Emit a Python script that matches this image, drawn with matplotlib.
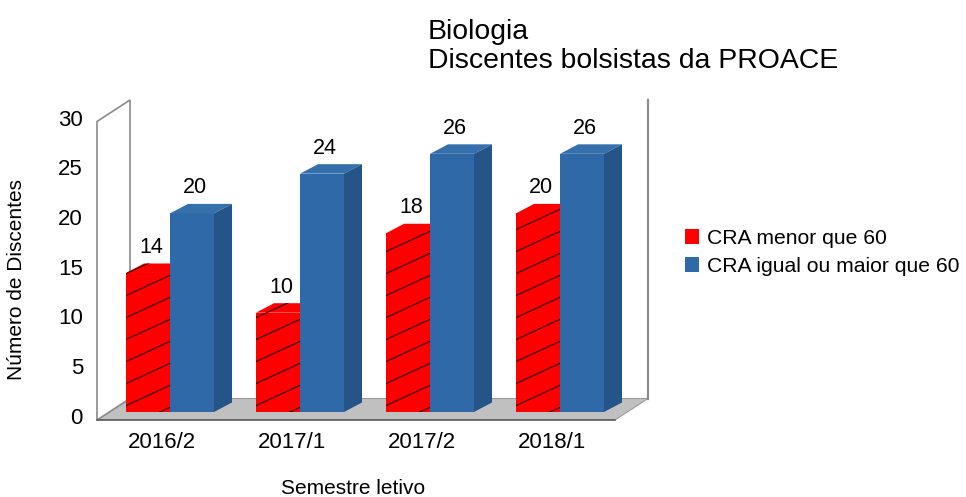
import numpy as np
import matplotlib
matplotlib.use('Agg')
import matplotlib.pyplot as plt
from matplotlib.patches import Polygon, Rectangle, Patch

plt.rcParams['font.family'] = ['Liberation Sans', 'DejaVu Sans']

semestres = ['2016/2', '2017/1', '2017/2', '2018/1']
cra_menor = [14, 10, 18, 20]
cra_maior = [20, 24, 26, 26]
series = ['CRA menor que 60', 'CRA igual ou maior que 60']
yticks = [0, 5, 10, 15, 20, 25, 30]

RED = '#ff0000'
BLUE = '#2f69a7'
BLUE_TOP = '#3570ad'
BLUE_SIDE = '#255489'

# pixel -> data scale (130 px per category, 9.93 px per unit)
SX = 1 / 130.0
SY = 1 / 9.93
BAR_W = 44 * SX
BDX, BDY = 18 * SX, 9.5 * SY      # bar depth
WDX, WDY = 33 * SX, 21.5 * SY     # wall depth

fig = plt.figure(figsize=(9.66, 4.97), dpi=100)
ax = fig.add_axes([97 / 966, 77 / 497, 558 / 966, 320 / 497])
ax.set_xlim(-73 * SX, 485 * SX)
ax.set_ylim(-8 * SY, 312 * SY)
ax.axis('off')

x0, x1 = ax.get_xlim()
y0, y1 = ax.get_ylim()
fx1 = 445 * SX  # front right end of floor

# floor
ax.add_patch(Polygon([(x0, y0), (fx1, y0), (fx1 + WDX, y0 + WDY), (x0 + WDX, y0 + WDY)],
                     closed=True, fc='#c0c0c0', ec='#9a9a9a', lw=0.8, zorder=1))
ax.plot([x0, fx1], [y0, y0], color='#5a5a5a', lw=1.2, zorder=2, clip_on=False)
# left wall
ax.add_patch(Polygon([(x0, y0), (x0 + WDX, y0 + WDY), (x0 + WDX, y1), (x0, y1 - WDY)],
                     closed=True, fc='white', ec='#8a8a8a', lw=1.2, zorder=1, clip_on=False))
# right back edge
ax.plot([fx1 + WDX, fx1 + WDX], [y0 + WDY, y1], color='#8a8a8a', lw=1.6, zorder=1, clip_on=False)


def bar3d(xl, h, front, top, side, hatch=False):
    r = Rectangle((xl, 0), BAR_W, h, fc=front, ec='none', zorder=3)
    ax.add_patch(r)
    t = Polygon([(xl, h), (xl + BAR_W, h), (xl + BAR_W + BDX, h + BDY), (xl + BDX, h + BDY)],
                closed=True, fc=top, ec='none', zorder=3)
    ax.add_patch(t)
    s = Polygon([(xl + BAR_W, 0), (xl + BAR_W + BDX, BDY), (xl + BAR_W + BDX, h + BDY), (xl + BAR_W, h)],
                closed=True, fc=side, ec='none', zorder=3)
    ax.add_patch(s)
    if hatch:
        slope = 0.46 * 130 / 9.93
        xs = np.array([xl - 0.05, xl + BAR_W + BDX + 0.05])
        for c in np.arange(-6, h + 6, 22 * SY):
            for clip in (r, t):
                ln, = ax.plot(xs, c + slope * (xs - xl), color='#3a0000', lw=0.9, zorder=3)
                ln.set_clip_path(clip)


for i, (a, b) in enumerate(zip(cra_menor, cra_maior)):
    bar3d(i - BAR_W, a, RED, RED, '#c00000', hatch=True)
    bar3d(i, b, BLUE, BLUE_TOP, BLUE_SIDE)
    ax.text(i - BAR_W / 2 + 3 * SX, a + BDY + 16 * SY, str(a), ha='center', va='center',
            fontsize=15.5, zorder=5)
    ax.text(i + BAR_W / 2 + 3 * SX, b + BDY + 16 * SY, str(b), ha='center', va='center',
            fontsize=15.5, zorder=5)

# axis labels on the front edge of the left wall
for v in yticks:
    ax.text(x0 - 14 * SX, v - 6 * SY, str(v), ha='right', va='center', fontsize=16, clip_on=False)
for i, s in enumerate(semestres):
    ax.text(i - 8 * SX, y0 - 23 * SY, s, ha='center', va='center', fontsize=16, clip_on=False)

fig.text(17 / 966, 1 - 279 / 497, 'Número de Discentes', rotation=90, ha='center', va='center',
         fontsize=15)
fig.text(353 / 966, 1 - 488 / 497, 'Semestre letivo', ha='center', va='center', fontsize=15)
fig.text(428 / 966, 1 - 19 / 497, 'Biologia\nDiscentes bolsistas da PROACE', ha='left', va='top',
         fontsize=20.4, linespacing=1.15)

handles = [Patch(fc=RED, ec='none'), Patch(fc=BLUE, ec='none')]
fig.legend(handles, series, loc='upper left', bbox_to_anchor=(674 / 966, 1 - 218 / 497),
           frameon=False, fontsize=15.2, handlelength=0.7, handleheight=0.7,
           handletextpad=0.35, labelspacing=0.45, borderpad=0)

fig.savefig('out.png', dpi=100)
